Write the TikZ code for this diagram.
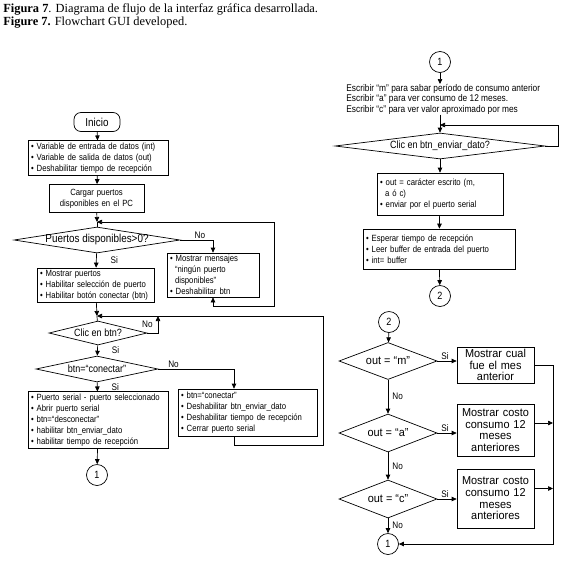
\documentclass[tikz,border=0pt]{standalone}
\usepackage{fontspec}
\setmainfont{Liberation Serif}
\setsansfont[FakeStretch=0.86]{Liberation Sans}
\newfontfamily\anchafont[FakeStretch=0.95]{Liberation Sans}
\usetikzlibrary{arrows.meta, shapes.geometric, calc}
\newcommand{\punto}{\textbullet\ }

\tikzset{
  caja/.style={draw, line width=0.7pt, inner xsep=3pt, inner ysep=2pt, font=\sffamily\fontsize{9}{11}\selectfont},
  lista/.style={caja, align=left},
  centrada/.style={caja, align=center},
  salida/.style={draw, line width=0.7pt, align=center, inner xsep=3pt, inner ysep=1pt, text width=71pt, font=\anchafont\fontsize{11.5}{11.7}\selectfont},
  decision/.style={diamond, draw, line width=0.7pt, inner sep=0pt, font=\sffamily\fontsize{10.5}{12}\selectfont},
  decisionb/.style={decision, font=\anchafont\fontsize{11.5}{12}\selectfont},
  conector/.style={circle, draw, line width=0.7pt, minimum size=21pt, inner sep=0pt, font=\sffamily\fontsize{10.5}{12}\selectfont},
  etiq/.style={inner sep=1pt, font=\sffamily\fontsize{9.5}{11}\selectfont},
}

\begin{document}
\begin{tikzpicture}[x=1pt, y=-1pt, line width=0.7pt, >={Triangle[length=5pt, width=4.5pt]}]
    \useasboundingbox (0,0) rectangle (572,568);
    % titulo
    \node[anchor=base west, inner sep=0pt, font=\fontsize{12.4}{13}\selectfont] (tit1) at (3,12) {\textbf{Figura 7}. Diagrama de flujo de la interfaz gráfica desarrollada.};
    \node[anchor=base west, inner sep=0pt, font=\fontsize{12.4}{13}\selectfont] (tit2) at (3,25) {\textbf{Figure 7.} Flowchart GUI developed.};

    % ---- columna izquierda ----
    \node[caja, rounded corners=7pt, minimum width=46pt, minimum height=19pt, font=\sffamily\fontsize{11.5}{12}\selectfont] (inicio) at (97,122) {Inicio};
    \node[lista, text width=134pt, minimum height=34pt] (vars) at (98,158) {\punto Variable de entrada de datos (int)\\\punto Variable de salida de datos (out)\\\punto Deshabilitar tiempo de recepción};
    \node[centrada, text width=89pt, minimum height=28pt] (cargar) at (96.5,198.5) {Cargar puertos\\disponibles en el PC};
    \coordinate (m1) at (97,222);
    \node[decision, aspect=6.4, inner xsep=-20pt, minimum width=166pt, minimum height=26pt, font=\sffamily\fontsize{11.5}{12}\selectfont] (d1) at (97,240) {Puertos disponibles>0?};
    \node[lista, text width=86pt, minimum height=44pt] (mensajes) at (213,275) {\punto Mostrar mensajes\\\hspace*{5pt}“ningún puerto\\\hspace*{5pt}disponibles”\\\punto Deshabilitar btn};
    \node[lista, text width=111pt, minimum height=34pt] (puertos) at (95.5,285) {\punto Mostrar puertos\\\punto Habilitar selección de puerto\\\punto Habilitar botón conectar (btn)};
    \coordinate (m2) at (97,316);
    \node[decision, aspect=4, minimum width=98pt, minimum height=24pt] (d2) at (98,333) {Clic en btn?};
    \node[decision, aspect=4.7, minimum width=122pt, minimum height=26pt] (d3) at (97,369) {btn=“conectar”};
    \node[lista, text width=133pt, minimum height=47pt] (cerrar) at (247.5,412.5) {\punto btn=“conectar”\\\punto Deshabilitar btn\_enviar\_dato\\\punto Deshabilitar tiempo de recepción\\\punto Cerrar puerto serial};
    \node[lista, text width=134pt, minimum height=56pt] (abrir) at (98,420) {\punto Puerto serial - puerto seleccionado\\\punto Abrir puerto serial\\\punto btn=“desconectar”\\\punto habilitar btn\_enviar\_dato\\\punto habilitar tiempo de recepción};
    \node[conector] (c1) at (97,475) {1};
    \coordinate (esq1) at (274,306);
    \coordinate (sube) at (158,316);
    \coordinate (esq2) at (323,445);

    \draw[->] (inicio) -- (vars);
    \draw[->] (vars) -- (cargar);
    \draw[->] (cargar) -- (m1);
    \draw (m1) -- (d1);
    \draw[->] (d1.east) -| node[etiq, above, pos=0.3] {No} (mensajes.north);
    \draw[<->] (mensajes.south) |- (esq1) |- (m1);
    \draw[->] (d1) -- node[etiq, right, xshift=13pt] {Si} (puertos);
    \draw[->] (puertos) -- (m2);
    \draw (m2) -- (d2);
    \draw[->] (d2.east) -| (sube);
    \node[etiq, anchor=south] (no2) at ([yshift=4pt]d2.east) {No};
    \draw[->] (d2) -- node[etiq, right, xshift=13pt] {Si} (d3);
    \draw[->] (d3.east) -| node[etiq, above, pos=0.1] {No} ([xshift=-13.5pt]cerrar.north);
    \draw[->] ([xshift=-13.5pt]cerrar.south) |- (esq2) |- (m2);
    \draw[->] (d3) -- node[etiq, right, xshift=13pt] {Si} (abrir);
    \draw[->] (abrir) -- (c1);

    % ---- columna derecha ----
    \node[conector] (c1r) at (440,62) {1};
    \node[anchor=north west, align=left, inner sep=0pt, font=\sffamily\fontsize{9.7}{10.4}\selectfont] (instr) at (346,84) {Escribir “m” para sabar período de consumo anterior\\Escribir “a” para ver consumo de 12 meses.\\Escribir “c” para ver valor aproximado por mes};
    \coordinate (m3) at (440,125);
    \node[decision, aspect=8, minimum width=210pt, minimum height=26pt] (d4) at (440,146) {Clic en btn\_enviar\_dato?};
    \node[lista, text width=120pt, minimum height=42pt] (enviar) at (440,194) {\punto out = carácter escrito (m,\\\hspace*{5pt}a ó c)\\\punto enviar por el puerto serial};
    \node[lista, text width=146pt, minimum height=40pt] (leer) at (439,249) {\punto Esperar tiempo de recepción\\\punto Leer buffer de entrada del puerto\\\punto int= buffer};
    \node[conector] (c2) at (440,296) {2};
    \coordinate (esq3) at (558,125);

    \draw[->] (c1r) -- (c1r |- instr.north);
    \draw[->] (instr.south -| c1r) -- (d4.north);
    \draw[->] (d4.east) -| (esq3) -- (m3);
    \draw[->] (d4) -- (enviar);
    \draw[->] (enviar) -- (leer);
    \draw[->] (leer) -- (c2);

    % opciones m, a, c
    \node[conector] (c2b) at (389,322) {2};
    \node[decisionb, aspect=2.6, minimum width=98pt, minimum height=37pt] (dm) at (388,361) {out = “m”};
    \node[decisionb, aspect=2.6, minimum width=98pt, minimum height=38pt] (da) at (388,433) {out = “a”};
    \node[decisionb, aspect=2.6, minimum width=98pt, minimum height=38pt] (dc) at (388,499) {out = “c”};
    \node[salida, minimum height=36pt] (mes) at (495.5,365) {Mostrar cual\\fue el mes\\anterior};
    \node[salida, minimum height=52pt] (doce) at (495.5,430) {Mostrar costo\\consumo 12\\meses\\anteriores};
    \node[salida, minimum height=59pt] (aprox) at (495.5,498.5) {Mostrar costo\\consumo 12\\meses\\anteriores};
    \node[conector] (c1c) at (388,544) {1};
    \coordinate (esq4) at (553,544);

    \draw[->] (c2b) -- (dm);
    \foreach \d/\b in {dm/mes, da/doce, dc/aprox} {
        \draw[->] (\d.east) -- node[etiq, above, pos=0.4] {Si} (\d.east -| \b.west);
    }
    \draw[->] (dm) -- node[etiq, right, xshift=3pt] {No} (da);
    \draw[->] (da) -- node[etiq, right, xshift=3pt] {No} (dc);
    \draw[->] (dc) -- node[etiq, right, xshift=3pt] {No} (c1c);
    \draw[->] (mes.east) -| (esq4) -- (c1c.east);
    \draw[->] ([yshift=7pt]doce.east) -- ([yshift=7pt]doce.east -| esq4);
    \draw[->] ([yshift=10pt]aprox.east) -- ([yshift=10pt]aprox.east -| esq4);
\end{tikzpicture}
\end{document}
